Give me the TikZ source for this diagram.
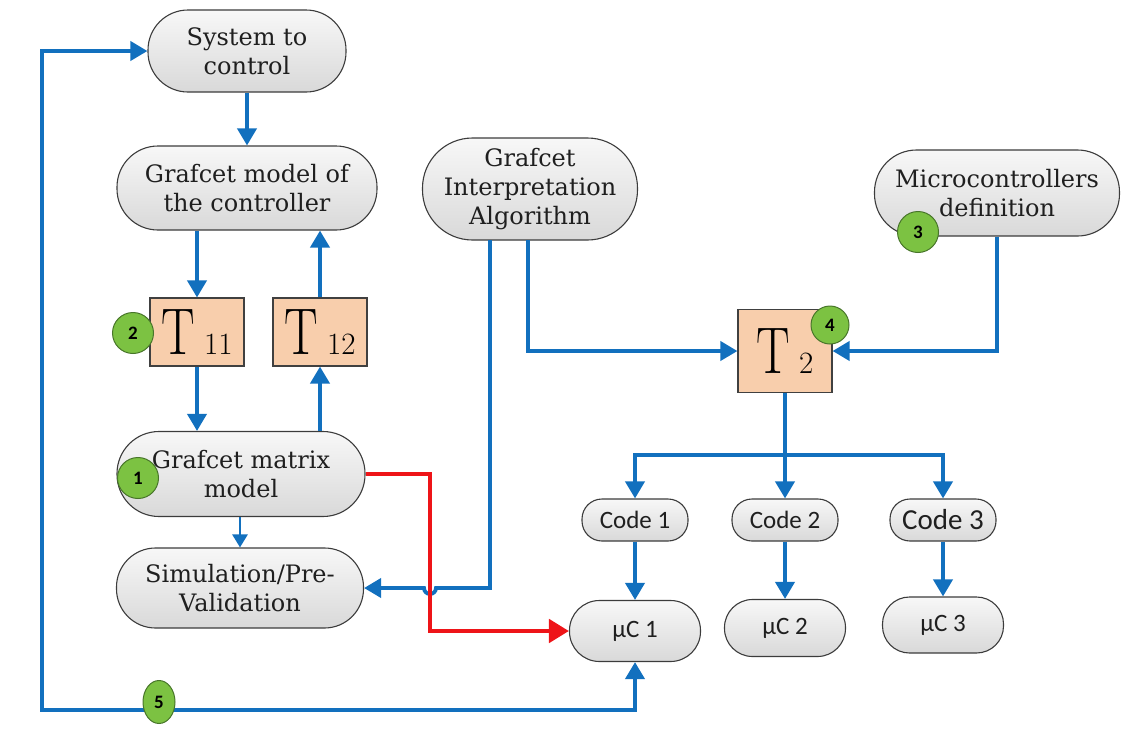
\documentclass[tikz,border=0pt]{standalone}
\usepackage{fontspec}
\setmainfont{DejaVu Serif}
\newfontfamily\codefont{Carlito}
\newfontfamily\lmfont{Latin Modern Roman}
\usetikzlibrary{arrows.meta,shapes.geometric}

\definecolor{flowblue}{RGB}{18,112,190}
\definecolor{flowred}{RGB}{238,20,24}
\definecolor{peach}{RGB}{248,206,172}
\definecolor{badgegreen}{RGB}{124,194,66}
\definecolor{badgeedge}{RGB}{72,118,42}
\definecolor{pilledge}{RGB}{60,60,60}

% T-block label: condensed capital T followed by its index
\newcommand{\tlabel}[1]{{\lmfont\scalebox{0.76}[1]{\fontsize{66}{66}\selectfont T}\hspace{9pt}\fontsize{31}{31}\selectfont #1}}

\tikzset{
  pill/.style={draw=pilledge, line width=1.1pt, top color=black!3, bottom color=black!15,
    align=center, inner sep=0pt, text=black!88, font=\fontsize{24}{29}\selectfont},
  codepill/.style={pill, font=\codefont\fontsize{25}{27}\selectfont},
  ucpill/.style={pill, font=\codefont\fontsize{25}{27}\selectfont},
  tbox/.style={draw=black!75, line width=1.1pt, fill=peach, inner sep=0pt,
    minimum width=94pt},
  badge/.style={circle, draw=badgeedge, line width=1pt, fill=badgegreen, minimum size=41pt,
    inner sep=0pt, font=\codefont\bfseries\fontsize{19}{19}\selectfont},
  flow/.style={draw=flowblue, line width=3.8pt, -{Triangle[length=17pt,width=19pt]}},
  flowthin/.style={draw=flowblue, line width=2.6pt, -{Triangle[length=13pt,width=15pt]}},
  redflow/.style={draw=flowred, line width=4.8pt, -{Triangle[length=20pt,width=23pt]}},
}

\begin{document}
\begin{tikzpicture}[x=1pt,y=-1pt]
\useasboundingbox (0,0) rectangle (1125,734);

% ---- process blocks
\node[pill, minimum width=198pt, minimum height=82pt, rounded corners=40pt] (sys) at (247,51) {System to\\control};
\node[pill, minimum width=260pt, minimum height=84pt, rounded corners=41pt] (gmodel) at (247,188) {Grafcet model of\\the controller};
\node[pill, minimum width=215pt, minimum height=102pt, rounded corners=50pt] (interp) at (530,189) {Grafcet\\Interpretation\\Algorithm};
\node[pill, minimum width=245pt, minimum height=86pt, rounded corners=42pt] (micro) at (997,193) {Microcontrollers\\definition};
\node[pill, minimum width=248pt, minimum height=85pt, rounded corners=42pt] (matrix) at (241,474) {Grafcet matrix\\model};
\node[pill, minimum width=247pt, minimum height=80pt, rounded corners=39pt] (sim) at (240,588) {Simulation/Pre-\\Validation};

% ---- transformation blocks
\node[tbox, minimum height=68pt] (t11) at (197,332) {\tlabel{11}};
\node[tbox, minimum height=68pt] (t12) at (320,332) {\tlabel{12}};
\node[tbox, minimum height=83pt] (t2) at (785,351) {\tlabel{2}};

% ---- generated code and target microcontrollers
\node[codepill, minimum width=106pt, minimum height=42pt, rounded corners=20pt] (code1) at (635,520) {Code 1};
\node[codepill, minimum width=106pt, minimum height=42pt, rounded corners=20pt] (code2) at (785,520) {Code 2};
\node[codepill, minimum width=106pt, minimum height=42pt, rounded corners=20pt, font=\codefont\fontsize{29}{30}\selectfont] (code3) at (943,520) {Code 3};
\node[ucpill, minimum width=131pt, minimum height=61pt, rounded corners=30pt] (uc1) at (635,631) {μC 1};
\node[ucpill, minimum width=121pt, minimum height=57pt, rounded corners=28pt] (uc2) at (785,628) {μC 2};
\node[ucpill, minimum width=121pt, minimum height=56pt, rounded corners=27pt] (uc3) at (943,625) {μC 3};

% ---- routing points
\coordinate (loopTop) at (42,51);
\coordinate (loopBot) at (42,710);
\coordinate (simBus) at (490,240);
\coordinate (t2Bus) at (528,240);
\coordinate (redX) at (430,0);
\coordinate (split) at (785,455);

% ---- connectors
\draw[flow] (sys.south) -- (gmodel.north);
\draw[flow] (t11.north |- gmodel.south) -- (t11.north);
\draw[flow] (t11.south) -- (t11.south |- matrix.north);
\draw[flow] (t12.south |- matrix.north) -- (t12.south);
\draw[flow] (t12.north) -- (t12.north |- gmodel.south);
\draw[flowthin] (sim.north |- matrix.south) -- (sim.north);

\draw[flow] (t2Bus) |- (t2.west);
\draw[flow] (micro.south) |- (t2.east);

% interpretation algorithm feeds the simulation, hopping over the red path
\draw[flow] (simBus) -- (simBus |- sim.east) -- ([xshift=6pt]redX |- sim.east)
  arc[start angle=0, end angle=-180, radius=6pt] -- (sim.east);

\draw[flow] (t2.south) -- (code2.north);
\draw[flow] (split) -| (code1.north);
\draw[flow] (split) -| (code3.north);

\draw[flow] (code1.south) -- (uc1.north);
\draw[flow] (code2.south) -- (uc2.north);
\draw[flow] (code3.south) -- (uc3.north);

\draw[redflow] (matrix.east) -- (redX |- matrix.east) -- (redX |- uc1.west) -- (uc1.west);

% feedback loop from the microcontroller to the controlled system
\draw[flow, {Triangle[length=17pt,width=19pt]}-{Triangle[length=17pt,width=19pt]}]
  (sys.west) -- (loopTop) -- (loopBot) -| (uc1.south);

% ---- step badges
\node[badge] (b1) at (138,478) {1};
\node[badge] (b2) at (133,333) {2};
\node[badge] (b3) at (918,232) {3};
\node[badge, minimum size=38pt] (b4) at (830,325) {4};
\node[badge, ellipse, minimum width=32pt, minimum height=43pt] (b5) at (159,702) {5};
\end{tikzpicture}
\end{document}
